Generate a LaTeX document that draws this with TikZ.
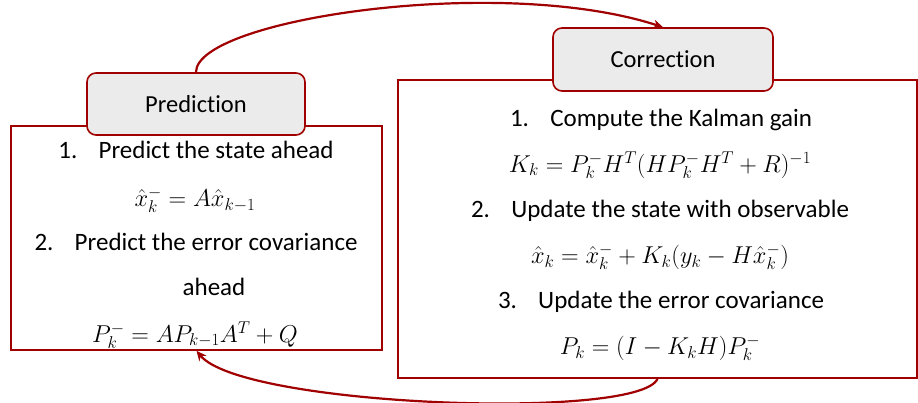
\RequirePackage{fix-cm}
\documentclass[tikz,border=0pt]{standalone}
\usepackage{fontspec}
\setmainfont{Carlito}[Ligatures=NoCommon]
\usetikzlibrary{arrows.meta}
\definecolor{kalred}{RGB}{160,0,0}
\definecolor{tabgray}{RGB}{235,235,235}
\newcommand{\itemno}[1]{#1.\hspace{0.85em}}

\begin{document}
\begin{tikzpicture}[x=1pt,y=1pt,
  frame/.style={draw=kalred,line width=1.6pt,fill=white,inner sep=0pt},
  tab/.style={draw=kalred,line width=1.6pt,fill=tabgray,rounded corners=9pt,inner sep=0pt,
    font=\fontsize{24.5}{28}\selectfont},
  flow/.style={draw=kalred,line width=2.2pt,-{Stealth[length=10pt,width=9pt]}},
  txt/.style={font=\fontsize{25}{30}\selectfont,inner sep=0pt},
  eqn/.style={font=\fontsize{24.4}{29}\selectfont,inner sep=0pt}]
\useasboundingbox (0,0) rectangle (918,403);
% prediction side
\node[frame,minimum width=371pt,minimum height=224pt] (predbox) at (196.5,165) {};
\node[tab,minimum width=218pt,minimum height=62pt] (predtab) at (196,299) {Prediction};
\node[txt] (p1) at (196,253) {\itemno{1}Predict the state ahead};
\node[eqn] (p2) at (195,203) {$\hat{x}_k^- = A\hat{x}_{k-1}$};
\node[txt] (p3) at (196,161) {\itemno{2}Predict the error covariance};
\node[txt] (p4) at (214,116) {ahead};
\node[eqn] (p5) at (195,68) {$P_k^- = AP_{k-1}A^T + Q$};
% correction side
\node[frame,minimum width=519pt,minimum height=298pt] (corrbox) at (657.5,174) {};
\node[tab,minimum width=220pt,minimum height=63pt] (corrtab) at (663,343.5) {Correction};
\node[txt] (c1) at (661,283) {\itemno{1}Compute the Kalman gain};
\node[eqn] (c2) at (660,238) {$K_k = P_k^- H^T (HP_k^- H^T + R)^{-1}$};
\node[txt] (c3) at (660,192) {\itemno{2}Update the state with observable};
\node[eqn] (c4) at (660,146) {$\hat{x}_k = \hat{x}_k^- + K_k(y_k - H\hat{x}_k^-)$};
\node[txt] (c5) at (661,101) {\itemno{3}Update the error covariance};
\node[eqn] (c6) at (660,55) {$P_k = (I - K_kH)P_k^-$};
% loop
\draw[flow] (predtab.north) .. controls +(0,53) and +(-163,53) .. (corrtab.north);
\draw[flow] (corrbox.south) .. controls +(-18,-42) and +(46,-56) .. (predbox.south);
\end{tikzpicture}
\end{document}
